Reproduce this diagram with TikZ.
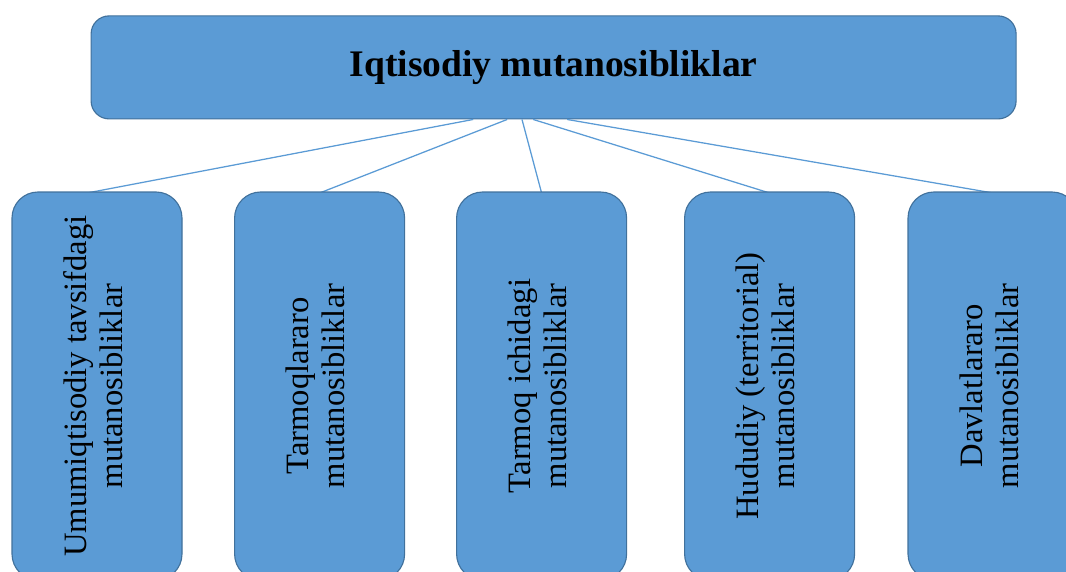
\documentclass[tikz,border=0pt]{standalone}
\usepackage{fontspec}
\setmainfont{Liberation Serif}
\definecolor{boxblue}{HTML}{5B9BD5}
\definecolor{edgeblue}{HTML}{41719C}
\tikzset{
    mainbox/.style={draw=edgeblue, fill=boxblue, rounded corners=0.45cm, line width=0.8pt,
        minimum width=23.125cm, minimum height=2.575cm, inner sep=0pt,
        font=\fontsize{26.7pt}{30pt}\selectfont\bfseries},
    subbox/.style={draw=edgeblue, fill=boxblue, rounded corners=0.65cm, line width=0.8pt,
        minimum width=4.25cm, minimum height=9.7cm, inner sep=0pt,
        font=\fontsize{23.2pt}{25.6pt}\selectfont},
    link/.style={draw=boxblue, line width=0.9pt}
}
\newcommand{\vtext}[2]{\rotatebox{90}{\begin{tabular}{@{}c@{}}#1\\#2\end{tabular}}}
\begin{document}
\begin{tikzpicture}
    \useasboundingbox (0,0) rectangle (26.65,14.275);
    \clip (0,0) rectangle (26.65,14.275);
    % connectors first, boxes drawn over them
    \coordinate (p1) at (2.175,9.45);
    \coordinate (p2) at (7.99,9.45);
    \coordinate (p3) at (13.54,9.45);
    \coordinate (p4) at (19.24,9.45);
    \coordinate (p5) at (24.825,9.45);
    \node[mainbox] (top) at (13.84,12.59) {Iqtisodiy mutanosibliklar};
    \draw[link] ([xshift=-2.01cm]top.south) -- (p1);
    \draw[link] ([xshift=-1.16cm]top.south) -- (p2);
    \draw[link] ([xshift=-0.79cm]top.south) -- (p3);
    \draw[link] ([xshift=-0.51cm]top.south) -- (p4);
    \draw[link] ([xshift=0.34cm]top.south) -- (p5);
    % lower row
    \node[subbox] (umumiy) at (2.425,4.625) {\vtext{Umumiqtisodiy tavsifdagi}{mutanosibliklar}};
    \node[subbox] (tarmoqlar) at (7.99,4.625) {\vtext{Tarmoqlararo}{mutanosibliklar}};
    \node[subbox] (tarmoq) at (13.54,4.625) {\vtext{Tarmoq ichidagi}{mutanosibliklar}};
    \node[subbox] (hudud) at (19.24,4.625) {\vtext{Hududiy (territorial)}{mutanosibliklar}};
    \node[subbox] (davlat) at (24.825,4.625) {\vtext{Davlatlararo}{mutanosibliklar}};
\end{tikzpicture}
\end{document}
